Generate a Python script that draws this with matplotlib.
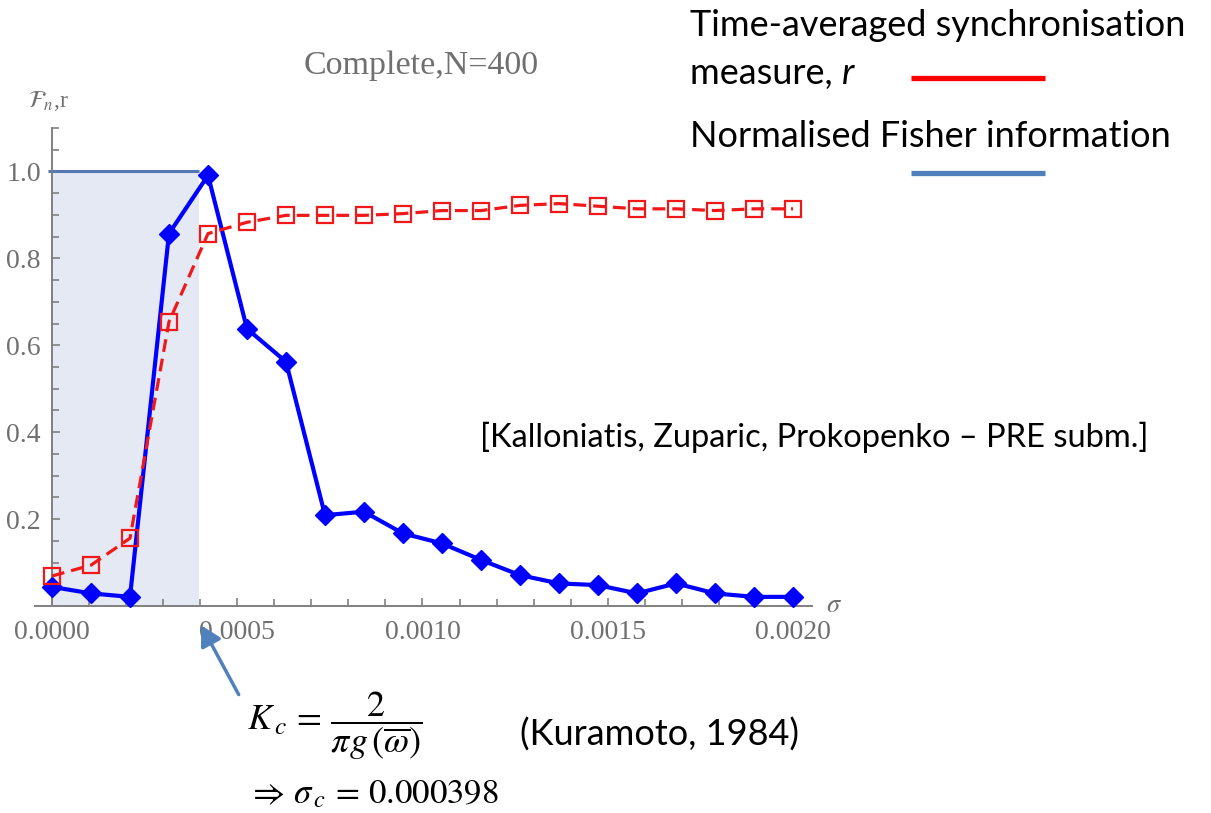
import matplotlib
matplotlib.use('Agg')
import matplotlib.pyplot as plt
from matplotlib.lines import Line2D
from matplotlib.ticker import MultipleLocator, FormatStrFormatter, FixedLocator

# ---------------- data ----------------
sigma = [0.0000000, 0.0001053, 0.0002105, 0.0003158, 0.0004211, 0.0005263,
         0.0006316, 0.0007368, 0.0008421, 0.0009474, 0.0010526, 0.0011579,
         0.0012632, 0.0013684, 0.0014737, 0.0015789, 0.0016842, 0.0017895,
         0.0018947, 0.0020000]
fisher = [0.044, 0.029, 0.021, 0.857, 0.991, 0.638, 0.562, 0.209, 0.217, 0.167,
          0.144, 0.106, 0.071, 0.052, 0.048, 0.029, 0.052, 0.029, 0.021, 0.021]
sync = [0.069, 0.094, 0.156, 0.654, 0.857, 0.883, 0.899, 0.899, 0.899, 0.903,
        0.910, 0.910, 0.922, 0.926, 0.920, 0.914, 0.914, 0.910, 0.914, 0.914]
sigma_c = 0.000398
x_ticks = [0.0, 0.0005, 0.0010, 0.0015, 0.0020]
y_ticks = [0.2, 0.4, 0.6, 0.8, 1.0]
title = "Complete,N=400"

W, H = 1211, 813
plt.rcParams['mathtext.fontset'] = 'stix'
fig = plt.figure(figsize=(W / 100, H / 100), dpi=100)


def fx(x):
    return x / W


def fy(y):
    return 1 - y / H


GRAY = '#707070'
SERIF = 'Liberation Serif'
SANS = 'Lato'

ax = fig.add_axes([fx(35), fy(606), 777 / W, 478 / H])
ax.set_xlim(-0.0000459, 0.0020513)
ax.set_ylim(0, 1.1)

# shaded region below sigma_c
ax.fill_between([0, sigma_c], [0, 0], [1.0, 1.0], color='#e5e9f3', lw=0, zorder=1)
ax.plot([-0.00001, sigma_c], [1.0, 1.0], color='#5277b3', lw=2.2, zorder=2,
        solid_capstyle='butt', clip_on=False)

ax.plot(sigma, fisher, color='#0000ff', lw=3, marker='D', ms=10.5,
        mfc='#0000ff', mec='#0000ff', zorder=4, clip_on=False)
ax.plot(sigma, sync, color='#f01818', lw=2.3, ls=(0, (4, 2.2)), marker='s', ms=11,
        mfc='none', mec='#f01818', mew=1.6, zorder=5, clip_on=False)

for s in ['top', 'right']:
    ax.spines[s].set_visible(False)
ax.spines['left'].set_position(('data', 0))
ax.spines['left'].set_bounds(0, 1.1)
for s in ['left', 'bottom']:
    ax.spines[s].set_color('#808080')
    ax.spines[s].set_linewidth(1.4)
ax.patch.set_visible(False)

ax.xaxis.set_major_locator(FixedLocator(x_ticks))
ax.xaxis.set_minor_locator(MultipleLocator(0.0001))
ax.yaxis.set_major_locator(FixedLocator(y_ticks))
ax.yaxis.set_minor_locator(MultipleLocator(0.05))
ax.xaxis.set_major_formatter(FormatStrFormatter('%.4f'))
ax.yaxis.set_major_formatter(FormatStrFormatter('%.1f'))
ax.tick_params(which='both', direction='in', color='#808080', width=1.2)
ax.tick_params(which='major', length=6)
ax.tick_params(which='minor', length=5)
ax.tick_params(axis='x', which='major', pad=10)
ax.tick_params(axis='y', which='major', pad=8)
for lab in ax.get_xticklabels() + ax.get_yticklabels():
    lab.set_fontfamily(SERIF)
    lab.set_fontsize(20)
    lab.set_color(GRAY)

# title and axis labels
fig.text(fx(421), fy(74), title, family=SERIF, fontsize=24.5, color=GRAY,
         ha='center', va='baseline')
fig.text(fx(28), fy(107), r'$\mathcal{F}_n$,r', family=SERIF, fontsize=17,
         color=GRAY, ha='left', va='baseline')
fig.text(fx(826), fy(612), r'$\sigma$', fontsize=19, color=GRAY,
         ha='left', va='baseline')

# legend-like annotations
fs_txt = 26
fig.text(fx(690), fy(36), 'Time-averaged synchronisation', family=SANS,
         fontsize=fs_txt, color='black', va='baseline')
t_meas = fig.text(fx(690), fy(84), 'measure, ', family=SANS, fontsize=fs_txt,
                  color='black', va='baseline')
fig.text(fx(690), fy(147), 'Normalised Fisher information', family=SANS,
         fontsize=fs_txt, color='black', va='baseline')
renderer = fig.canvas.get_renderer()
bb = t_meas.get_window_extent(renderer=renderer)
fig.text(bb.x1 / W, fy(84), 'r', family=SANS, style='italic', fontsize=fs_txt,
         color='black', va='baseline')

fig.add_artist(Line2D([fx(911), fx(1045)], [fy(78), fy(78)], color='#ff0000',
                      lw=3.8, solid_capstyle='butt'))
fig.add_artist(Line2D([fx(911), fx(1045)], [fy(173), fy(173)], color='#4f81bd',
                      lw=3.8, solid_capstyle='butt'))

fig.text(fx(480), fy(447), '[Kalloniatis, Zuparic, Prokopenko \u2013 PRE subm.]',
         family=SANS, fontsize=23.5, color='black', va='baseline')
fig.text(fx(520), fy(746), '(Kuramoto, 1984)', family=SANS, fontsize=fs_txt,
         color='black', va='baseline')

# formula
fig.text(fx(247), fy(726), r'$K_{\,c}\,=\,\dfrac{2}{\pi g\,(\overline{\omega})}$',
         fontsize=26, color='black', ha='left', va='center')
fig.text(fx(247), fy(803), r'$\Rightarrow\,\sigma_{\,c}\,=\,0.000398$',
         fontsize=25, color='black', ha='left', va='baseline')

# arrow
fig.add_artist(matplotlib.patches.FancyArrowPatch(
    (fx(240), fy(697)), (fx(200), fy(623)), transform=fig.transFigure,
    arrowstyle='-|>,head_length=8,head_width=4.5', color='#4f81bd', lw=2.5,
    mutation_scale=1.5))

fig.savefig('out.png', dpi=100)
